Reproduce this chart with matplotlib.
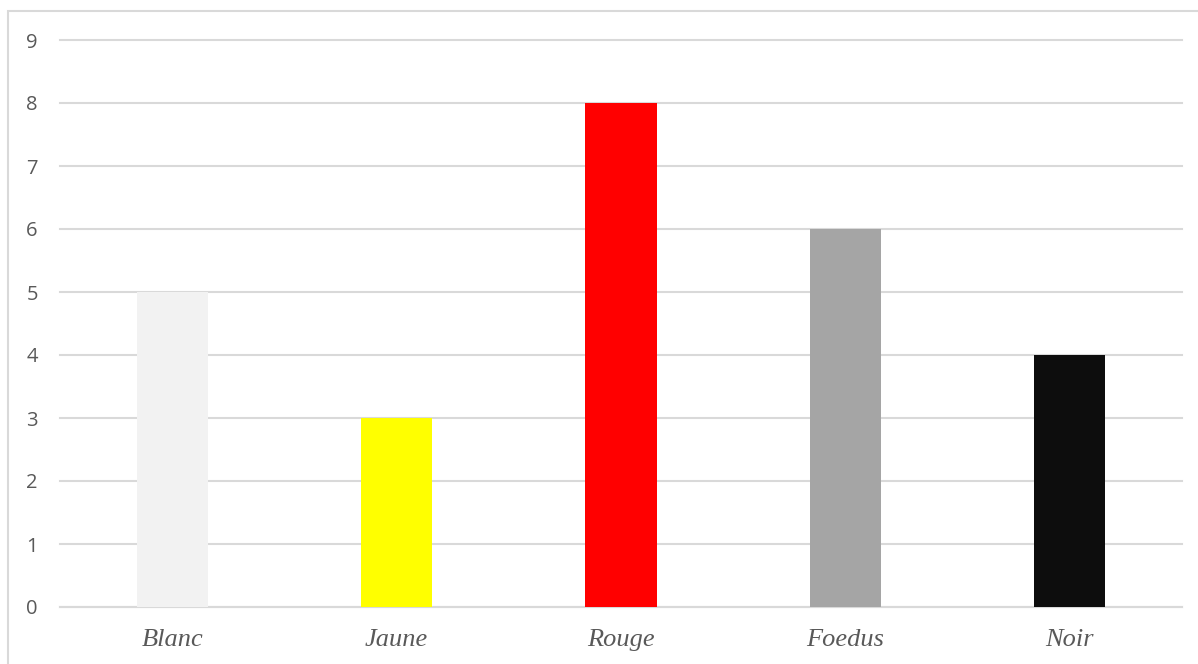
import matplotlib.pyplot as plt
from matplotlib.patches import Rectangle

categories = ['Blanc', 'Jaune', 'Rouge', 'Foedus', 'Noir']
values = [5, 3, 8, 6, 4]
colors = ['#f2f2f2', '#ffff00', '#ff0000', '#a5a5a5', '#0d0d0d']

fig = plt.figure(figsize=(11.98, 6.64), dpi=100)
ax = fig.add_axes([60 / 1198, 1 - 607 / 664, 1122 / 1198, 567 / 664])

# chart frame, cut off at the right and bottom edges
fig.patches.append(Rectangle((8 / 1198, -0.1), 1.2, 1 - 11 / 664 + 0.1,
                             transform=fig.transFigure, fill=False,
                             edgecolor='#d9d9d9', linewidth=1.5))

x = range(len(categories))
ax.bar(x, values, width=0.317, color=colors, zorder=3)

ax.set_xlim(-0.5, 4.5)
ax.set_ylim(0, 9)
ax.set_yticks(range(10))
ax.yaxis.grid(True, color='#d9d9d9', linewidth=1.5, zorder=0)
for gl in ax.get_ygridlines():
    gl.set_clip_on(False)
for s in ['top', 'right', 'left']:
    ax.spines[s].set_visible(False)
ax.spines['bottom'].set_color('#d9d9d9')
ax.spines['bottom'].set_linewidth(1.5)
ax.tick_params(axis='both', length=0)
ax.tick_params(axis='y', pad=16, labelcolor='#595959', labelsize=14.5)
ax.set_yticklabels([str(i) for i in range(10)], family='Open Sans')

ax.set_xticks(list(x))
ax.set_xticklabels(categories, family='Liberation Serif', style='italic',
                   fontsize=19, color='#595959')
ax.tick_params(axis='x', pad=16)

fig.savefig('out.png', dpi=100)
